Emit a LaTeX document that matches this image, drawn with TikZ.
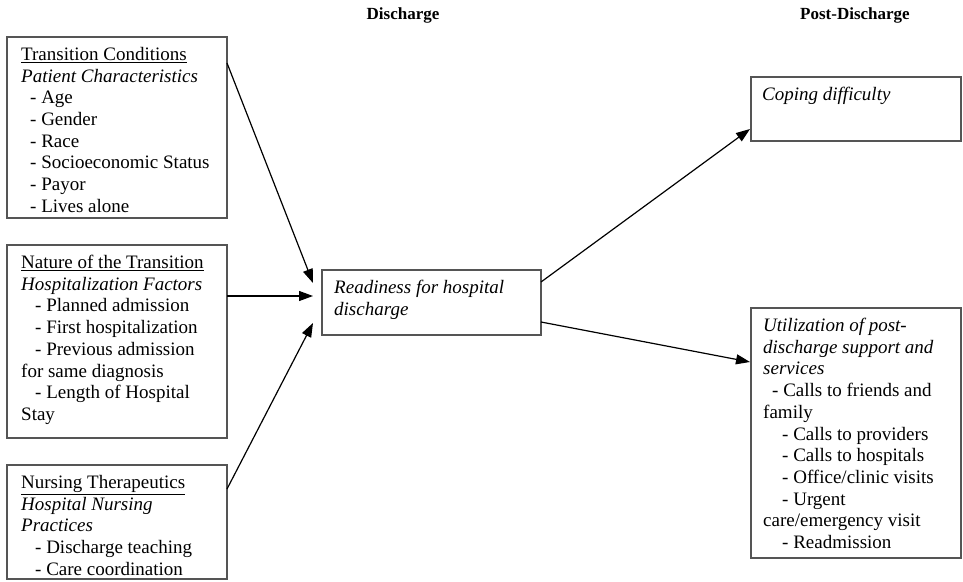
\documentclass[tikz,border=0pt]{standalone}
\usepackage{fontspec}
\setmainfont{Liberation Serif}
\usetikzlibrary{arrows.meta,calc}
\definecolor{boxgray}{HTML}{555555}
\begin{document}
\begin{tikzpicture}[x=1pt,y=-1pt,
  box/.style={draw=boxgray, line width=1.6pt, rectangle, inner sep=0pt, outer sep=0pt, anchor=north west},
  txt/.style={anchor=north west, inner sep=0pt, align=left, font=\fontsize{19}{21.7}\selectfont},
  arr/.style={line width=1.2pt, -{Triangle[length=14pt,width=10pt]}},
  head/.style={font=\fontsize{17}{20}\selectfont\bfseries}]
\useasboundingbox (0,0) rectangle (963,581);

% column headings
\node[head] (hdis) at (403,15) {Discharge};
\node[head] (hpost) at (855,15) {Post-Discharge};

% left column: factors
\node[box, minimum width=220pt, minimum height=181pt] (tc) at (7,37) {};
\node[txt] (tct) at ($(tc.north west)+(14,10)$) {%
\underline{Transition Conditions}\\
\textit{Patient Characteristics}\\
\hspace*{9pt}- Age\\
\hspace*{9pt}- Gender\\
\hspace*{9pt}- Race\\
\hspace*{9pt}- Socioeconomic Status\\
\hspace*{9pt}- Payor\\
\hspace*{9pt}- Lives alone};

\node[box, minimum width=220pt, minimum height=193pt] (nt) at (7,245) {};
\node[txt] (ntt) at ($(nt.north west)+(14,10)$) {%
\underline{Nature of the Transition}\\
\textit{Hospitalization Factors}\\
\hspace*{14pt}- Planned admission\\
\hspace*{14pt}- First hospitalization\\
\hspace*{14pt}- Previous admission\\
for same diagnosis\\
\hspace*{14pt}- Length of Hospital\\
Stay};

\node[box, minimum width=220pt, minimum height=114pt] (nth) at (7,465) {};
\node[txt] (ntht) at ($(nth.north west)+(14,10)$) {%
\underline{Nursing Therapeutics}\\
\textit{Hospital Nursing}\\
\textit{Practices}\\
\hspace*{14pt}- Discharge teaching\\
\hspace*{14pt}- Care coordination};

% centre: readiness
\node[box, minimum width=219pt, minimum height=65pt] (ready) at (322,270) {};
\node[txt] (readyt) at ($(ready.north west)+(12,10)$) {%
\textit{Readiness for hospital}\\
\textit{discharge}};

% right column: outcomes
\node[box, minimum width=210pt, minimum height=64pt] (cope) at (751,77) {};
\node[txt] (copet) at ($(cope.north west)+(11,10)$) {\textit{Coping difficulty}};

\node[box, minimum width=210pt, minimum height=250pt] (util) at (751,308) {};
\node[txt] (utilt) at ($(util.north west)+(12,10)$) {%
\textit{Utilization of post-}\\
\textit{discharge support and}\\
\textit{services}\\
\hspace*{9pt}- Calls to friends and\\
family\\
\hspace*{19pt}- Calls to providers\\
\hspace*{19pt}- Calls to hospitals\\
\hspace*{19pt}- Office/clinic visits\\
\hspace*{19pt}- Urgent\\
care/emergency visit\\
\hspace*{19pt}- Readmission};

% connectors
\draw[arr] ($(tc.north east)+(0,26)$) -- ($(ready.north west)+(-9,13)$);
\draw[arr] ($(nt.north east)+(0,51)$) -- ($(ready.north west)+(-9,26)$);
\draw[arr] ($(nth.north east)+(0,24)$) -- ($(ready.north west)+(-9,53)$);
\draw[arr] ($(ready.north east)+(0,12)$) -- ($(cope.south west)+(-1,-12)$);
\draw[arr] ($(ready.north east)+(0,52)$) -- ($(util.north west)+(-1,54)$);
\end{tikzpicture}
\end{document}
